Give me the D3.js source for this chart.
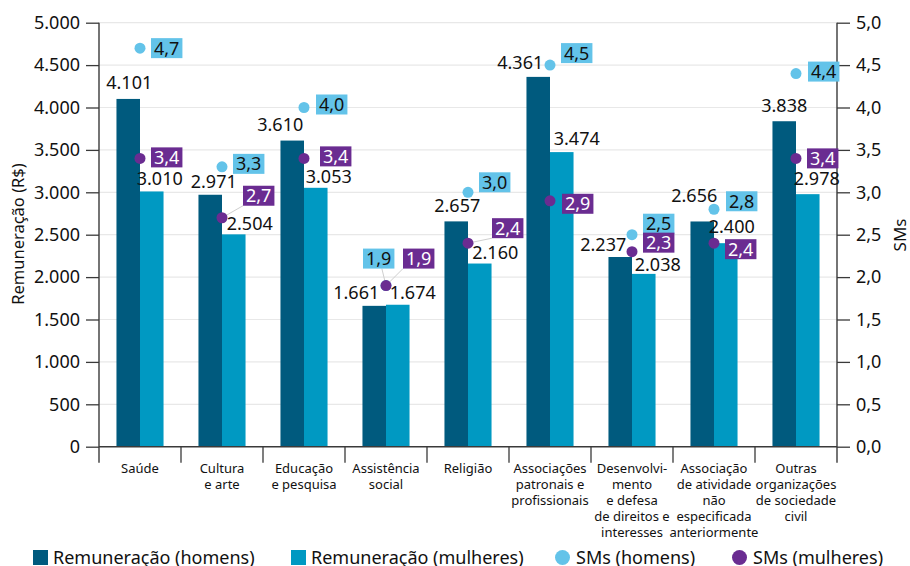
<!DOCTYPE html>
<html><head><meta charset="utf-8">
<script src="https://cdn.jsdelivr.net/npm/d3@7"></script>
<style>
html,body{margin:0;padding:0;background:#fff;}
svg{display:block;font-family:"Noto Sans","Open Sans",sans-serif;}
</style></head>
<body>
<svg id="chart" width="910" height="566"></svg>
<script>
// ---------- DATA ----------
const categories = [
  ["Saúde"],
  ["Cultura","e arte"],
  ["Educação","e pesquisa"],
  ["Assistência","social"],
  ["Religião"],
  ["Associações","patronais e","profissionais"],
  ["Desenvolvi-","mento","e defesa","de direitos e","interesses"],
  ["Associação","de atividade","não","especificada","anteriormente"],
  ["Outras","organizações","de sociedade","civil"]
];
const remHomens   = [4101, 2971, 3610, 1661, 2657, 4361, 2237, 2656, 3838];
const remMulheres = [3010, 2504, 3053, 1674, 2160, 3474, 2038, 2400, 2978];
const smHomens    = [4.7, 3.3, 4.0, 1.9, 3.0, 4.5, 2.5, 2.8, 4.4];
const smMulheres  = [3.4, 2.7, 3.4, 1.9, 2.4, 2.9, 2.3, 2.4, 3.4];
const leftTicks   = [0, 500, 1000, 1500, 2000, 2500, 3000, 3500, 4000, 4500, 5000];
const rightTicks  = [0, 0.5, 1.0, 1.5, 2.0, 2.5, 3.0, 3.5, 4.0, 4.5, 5.0];
const legendLabels = ["Remuneração (homens)", "Remuneração (mulheres)", "SMs (homens)", "SMs (mulheres)"];
const leftTitle = "Remuneração (R$)";
const rightTitle = "SMs";

// ---------- LAYOUT (label offsets in px) ----------
const menLblOff = [[1,-10],[3.5,-7],[-12,-10],[-18,-7],[1,-9],[-18,-8],[-17,-6],[-8,-19],[0,-9.5]];
const womLblOff = [[8,-6],[16,-4],[13,-5],[15,-6],[15.5,-5],[15,-7],[14,-3],[6,-10],[9,-9.5]];
const smHOff = [[11,0],[11,-3],[12,-3],[-23,-27],[11,-10],[11,-12],[11,-11],[12,-8],[12,-2]];
const smMOff = [[11,-1],[21,-22],[16,-2],[17,-27],[24,-15],[12,3],[11,-9],[11,6],[11,0]];

const C = {dark:"#005a7e", light:"#0099c2", dotH:"#63c3e9", dotM:"#6a2c91", grid:"#e8e8e8", axis:"#3a3a3a"};

const loc = d3.formatLocale({decimal:",", thousands:".", grouping:[3], currency:["R$",""]});
const fmtInt = loc.format(",d");
const fmt1 = loc.format(".1f");

const svg = d3.select("#chart");
const L = 99, R = 837, T = 22.7, B = 446.7;

const x = d3.scaleBand().domain(d3.range(categories.length)).range([L, R]).padding(0);
const bw = x.bandwidth();
const x1 = d3.scaleBand().domain(["h","m"]).range([bw*0.213, bw*0.787]).padding(0);
const yL = d3.scaleLinear().domain([0, 5000]).range([B, T]);
const yR = d3.scaleLinear().domain([0, 5]).range([B, T]);

// gridlines
svg.append("g").selectAll("line").data(leftTicks.filter(d => d > 0)).join("line")
  .attr("x1", L).attr("x2", R).attr("y1", d => yL(d)).attr("y2", d => yL(d))
  .attr("stroke", C.grid).attr("stroke-width", 1.2);

// bars
const g = svg.append("g");
g.selectAll("rect.h").data(remHomens).join("rect").attr("class","h")
  .attr("x", (d,i) => x(i) + x1("h")).attr("width", x1.bandwidth())
  .attr("y", d => yL(d)).attr("height", d => B - yL(d)).attr("fill", C.dark);
g.selectAll("rect.m").data(remMulheres).join("rect").attr("class","m")
  .attr("x", (d,i) => x(i) + x1("m")).attr("width", x1.bandwidth())
  .attr("y", d => yL(d)).attr("height", d => B - yL(d)).attr("fill", C.light);

// axes
const axL = d3.axisLeft(yL).tickValues(leftTicks).tickSize(13).tickPadding(6).tickFormat(d => d === 0 ? "0" : fmtInt(d));
const axR = d3.axisRight(yR).tickValues(rightTicks).tickSize(13).tickPadding(6).tickFormat(fmt1);
const gL = svg.append("g").attr("transform", `translate(${L},0)`).call(axL);
const gR = svg.append("g").attr("transform", `translate(${R},0)`).call(axR);
[gL, gR].forEach(a => {
  a.select(".domain").remove();
  a.selectAll(".tick line").attr("stroke", C.axis).attr("stroke-width", 1.3);
  a.selectAll(".tick text").attr("font-size", 18).attr("fill", "#111").attr("font-family", "Noto Sans");
});
// vertical axis lines
svg.append("line").attr("x1", L).attr("x2", L).attr("y1", T).attr("y2", B + 16).attr("stroke", C.axis).attr("stroke-width", 1.4);
svg.append("line").attr("x1", R).attr("x2", R).attr("y1", T).attr("y2", B + 16).attr("stroke", C.axis).attr("stroke-width", 1.4);
// bottom axis
svg.append("line").attr("x1", L).attr("x2", R).attr("y1", B).attr("y2", B).attr("stroke", C.axis).attr("stroke-width", 1.4);
svg.append("g").selectAll("line").data(d3.range(1, categories.length)).join("line")
  .attr("x1", d => x(d)).attr("x2", d => x(d)).attr("y1", B).attr("y2", B + 16)
  .attr("stroke", C.axis).attr("stroke-width", 1.3);

// category labels
const cat = svg.append("g").attr("font-size", 13).attr("fill", "#111").attr("text-anchor", "middle");
categories.forEach((lines, i) => {
  const t = cat.append("text").attr("x", x(i) + bw/2).attr("y", B + 26);
  lines.forEach((ln, j) => t.append("tspan").attr("x", x(i) + bw/2).attr("dy", j === 0 ? 0 : 16).text(ln));
});

// value labels
const vl = svg.append("g").attr("font-size", 18).attr("fill", "#111").attr("text-anchor", "middle");
remHomens.forEach((d, i) => {
  vl.append("text").attr("x", x(i) + x1("h") + x1.bandwidth()/2 + menLblOff[i][0])
    .attr("y", yL(d) + menLblOff[i][1]).text(fmtInt(d));
});
remMulheres.forEach((d, i) => {
  vl.append("text").attr("x", x(i) + x1("m") + x1.bandwidth()/2 + womLblOff[i][0])
    .attr("y", yL(d) + womLblOff[i][1]).text(fmtInt(d));
});

// dots + boxed labels
function drawSM(values, offs, color, textColor) {
  const lay = svg.append("g");
  const leaders = lay.append("g");
  values.forEach((v, i) => {
    const cx = x(i) + bw/2, cy = yR(v);
    const t = lay.append("text").attr("font-size", 18).attr("fill", textColor).text(fmt1(v));
    const tw = t.node().getComputedTextLength();
    const bwid = tw + 6, bh = 20;
    const bx = cx + offs[i][0], by = cy + offs[i][1] - bh/2;
    lay.insert("rect", "text").attr("x", bx).attr("y", by).attr("width", bwid).attr("height", bh).attr("fill", color);
    t.attr("x", bx + 3).attr("y", by + 16.5);
    if (Math.abs(offs[i][1]) > 13 || offs[i][0] < 0) {
      const ex = offs[i][0] < 0 ? bx + bwid*0.6 : bx;
      leaders.append("line").attr("x1", cx).attr("y1", cy).attr("x2", ex).attr("y2", by + bh)
        .attr("stroke", "#cfcfcf").attr("stroke-width", 1);
    }
    lay.append("circle").attr("cx", cx).attr("cy", cy).attr("r", 5.5).attr("fill", color);
  });
}
drawSM(smHomens, smHOff, C.dotH, "#111");
drawSM(smMulheres, smMOff, C.dotM, "#fff");

// axis titles
svg.append("text").attr("transform", `translate(24,234) rotate(-90)`).attr("text-anchor", "middle")
  .attr("font-size", 16.5).attr("fill", "#111").text(leftTitle);
svg.append("text").attr("transform", `translate(906,235) rotate(-90)`).attr("text-anchor", "middle")
  .attr("font-size", 17).attr("fill", "#111").text(rightTitle);

// legend
const leg = svg.append("g").attr("font-size", 18).attr("fill", "#111");
const legX = [33, 291, 555, 732];
const legC = [C.dark, C.light, C.dotH, C.dotM];
legendLabels.forEach((lb, i) => {
  if (i < 2) leg.append("rect").attr("x", legX[i]).attr("y", 550).attr("width", 15).attr("height", 15).attr("fill", legC[i]);
  else leg.append("circle").attr("cx", legX[i] + 7.5).attr("cy", 557.5).attr("r", 7.5).attr("fill", legC[i]);
  leg.append("text").attr("x", legX[i] + (i < 2 ? 20 : 21)).attr("y", 563.5).text(lb);
});
</script>
</body></html>
